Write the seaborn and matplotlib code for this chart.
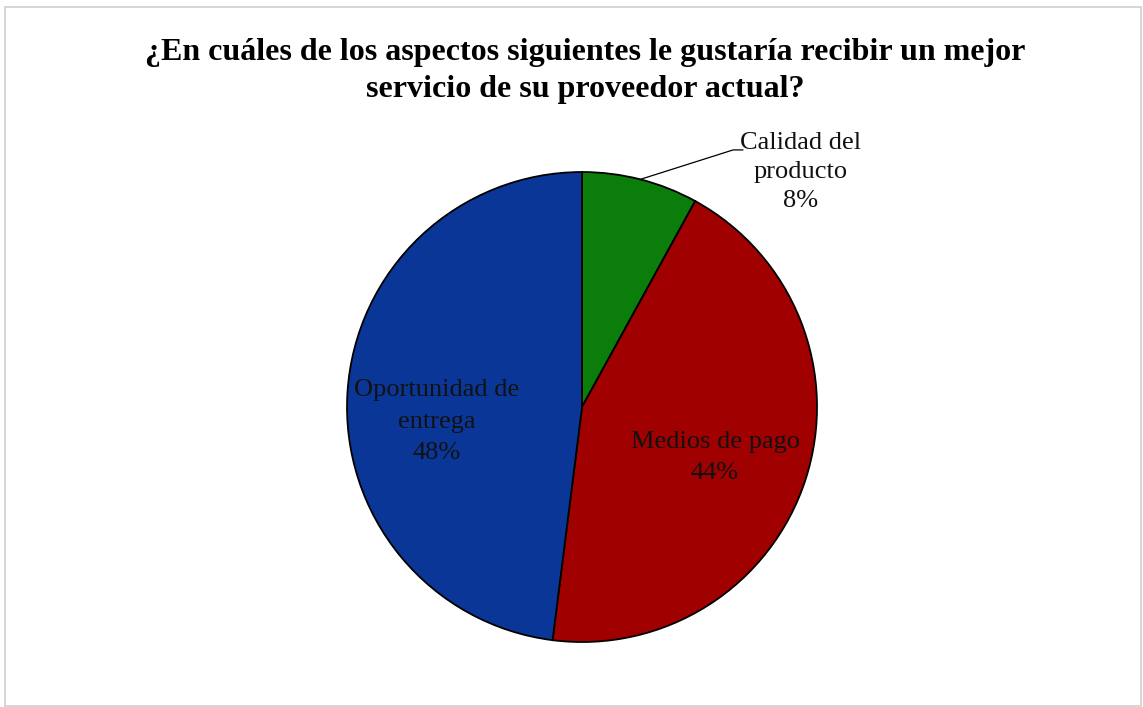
import matplotlib
matplotlib.use("Agg")
import matplotlib.pyplot as plt
import seaborn as sns
from matplotlib.patches import Rectangle

categories = ["Calidad del\nproducto", "Medios de pago", "Oportunidad de\nentrega"]
values = [8, 44, 48]
colors = ["#0B7D0B", "#A00000", "#0A3797"]
title = "¿En cuáles de los aspectos siguientes le gustaría recibir un mejor\nservicio de su proveedor actual?"

sns.set_theme(style="white")
plt.rcParams['font.family'] = ['Liberation Serif', 'DejaVu Serif']

fig = plt.figure(figsize=(11.43, 7.07), dpi=100)
fig.patch.set_facecolor("white")
fig.add_artist(Rectangle((0.004, 0.002), 0.994, 0.988, transform=fig.transFigure,
                         fill=False, edgecolor="#D0D0D0", linewidth=1.2))

ax = fig.add_axes([0.3036, 0.0919, 0.4112, 0.6648])
wedges, _ = ax.pie(values, colors=colors, startangle=90, counterclock=False,
                   radius=1.0, wedgeprops=dict(edgecolor="black", linewidth=1.3))
ax.set_xlim(-1, 1)
ax.set_ylim(-1, 1)
ax.set_aspect("equal")
ax.axis("off")

fs = 19
ls = 1.54
ax.text(-0.617, -0.062, f"{categories[2]}\n{values[2]}%", ha="center", va="center",
        fontsize=fs, color="#111111", linespacing=ls)
ax.text(0.566, -0.216, f"{categories[1]}\n{values[1]}%", ha="center", va="center",
        fontsize=fs, color="#111111", linespacing=ls)
ax.text(0.932, 1.0, f"{categories[0]}\n{values[0]}%", ha="center", va="center",
        fontsize=fs, color="#111111", linespacing=1.44, clip_on=False)
ax.plot([0.249, 0.643, 0.685], [0.969, 1.094, 1.094], color="black", linewidth=0.9,
        clip_on=False)

fig.text(0.512, 0.899, title, ha="center", va="center", fontsize=23,
         fontweight="bold", color="black", linespacing=1.36)

fig.savefig("out.png", dpi=100, facecolor="white")
